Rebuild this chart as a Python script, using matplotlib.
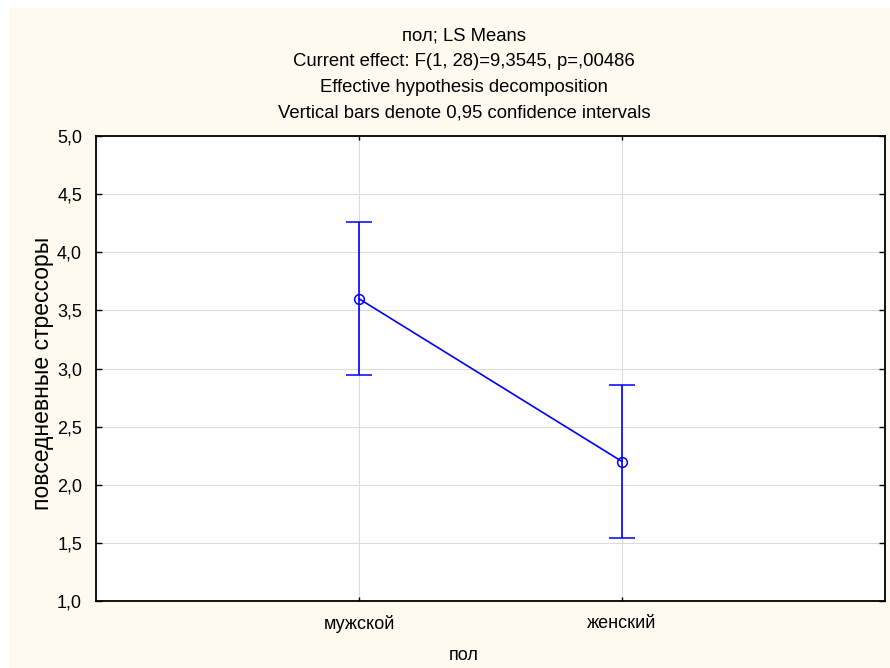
import numpy as np
import matplotlib.pyplot as plt
from matplotlib.patches import Rectangle

plt.rcParams['font.family'] = ['Liberation Sans', 'DejaVu Sans']

groups = ['мужской', 'женский']
means = [3.6, 2.2]
ci_low = [2.94, 1.54]
ci_high = [4.26, 2.86]
yticks = [1.0, 1.5, 2.0, 2.5, 3.0, 3.5, 4.0, 4.5, 5.0]
titles = ['пол; LS Means',
          'Current effect: F(1, 28)=9,3545, p=,00486',
          'Effective hypothesis decomposition',
          'Vertical bars denote 0,95 confidence intervals']

W, H = 890, 668
fig = plt.figure(figsize=(W / 100, H / 100), dpi=100, facecolor='white')
fig.patches.append(Rectangle((9 / W, 0), 1 - 9 / W, 1 - 8 / H, transform=fig.transFigure,
                             facecolor='#FFFAF0', edgecolor='none', zorder=-10))

ax = fig.add_axes([96 / W, 1 - 601 / H, (885 - 96) / W, (601 - 136) / H])
ax.set_facecolor('white')

x = np.arange(1, len(groups) + 1)
m = np.array(means)
lo = m - np.array(ci_low)
hi = np.array(ci_high) - m
ax.errorbar(x, m, yerr=[lo, hi], color='#0000FF', lw=1.2, capsize=9.5, capthick=1.3,
            marker='o', ms=7, mfc='none', mec='#0000FF', mew=1.1, zorder=3)

ax.set_xlim(0, 3)
ax.set_ylim(1, 5)
ax.set_xticks(x)
ax.set_xticklabels(groups)
ax.set_yticks(yticks)
ax.set_yticklabels([f'{v:.1f}'.replace('.', ',') for v in yticks])
ax.grid(True, color='#DCDCDC', lw=0.8)
ax.set_axisbelow(True)
for s in ax.spines.values():
    s.set_linewidth(1.3)
    s.set_color('black')
ax.tick_params(axis='y', direction='in', right=True, length=4, width=1, labelsize=13, pad=10)
ax.tick_params(axis='x', direction='in', top=True, length=3, width=1, labelsize=13, pad=10)

fig.text(43 / W, 1 - 373 / H, 'повседневные стрессоры', rotation=90,
         ha='center', va='center', fontsize=16.5)
fig.text(464 / W, 1 - 656 / H, 'пол', ha='center', va='center', fontsize=13)

for i, t in enumerate(titles):
    fig.text(464 / W, 1 - (36 + 25.5 * i) / H, t, ha='center', va='center', fontsize=13.3)

fig.savefig('out.png', dpi=100, facecolor=fig.get_facecolor())
